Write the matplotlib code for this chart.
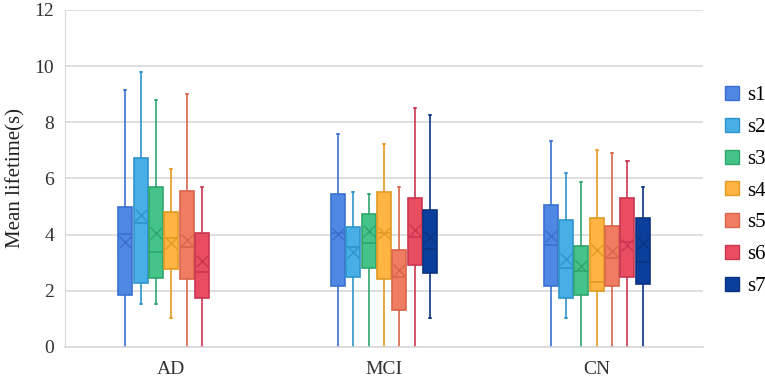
import matplotlib
matplotlib.use("Agg")
import matplotlib.pyplot as plt
from matplotlib.patches import Patch

plt.rcParams['font.family'] = ['Liberation Serif', 'DejaVu Serif']

groups = ['AD', 'MCI', 'CN']
states = ['s1', 's2', 's3', 's4', 's5', 's6', 's7']

face_colors = ['#4F88E3', '#47AEE6', '#45C48A', '#FFB444', '#F07D62', '#E84D62', '#0A3F9B']
edge_colors = ['#3A6FD0', '#2F94CC', '#2FA56C', '#E39A22', '#D9654A', '#CC3550', '#0A3384']

# per group, per state: (whislo, q1, med, q3, whishi, mean); None = not shown
AD = [
    (0.0, 1.84, 4.01, 4.99, 9.15, 3.73),
    (1.52, 2.29, 4.40, 6.71, 9.80, 4.70),
    (1.52, 2.47, 3.39, 5.68, 8.79, 4.05),
    (1.02, 2.77, 3.87, 4.79, 6.33, 3.71),
    (0.0, 2.43, 3.57, 5.55, 9.00, 3.81),
    (0.0, 1.75, 2.68, 4.05, 5.68, 3.06),
    None,
]
MCI = [
    (0.0, 2.18, 4.05, 5.43, 7.58, 4.03),
    (0.0, 2.48, 3.57, 4.26, 5.52, 3.37),
    (0.0, 2.81, 3.69, 4.73, 5.43, 4.14),
    (0.0, 2.43, 4.07, 5.52, 7.21, 4.05),
    (0.0, 1.32, 2.50, 3.45, 5.69, 2.74),
    (0.0, 2.92, 3.93, 5.31, 8.52, 4.16),
    (1.02, 2.62, 3.50, 4.89, 8.26, 3.90),
]
CN = [
    (0.0, 2.18, 3.63, 5.05, 7.34, 3.96),
    (1.02, 1.73, 2.80, 4.52, 6.18, 3.13),
    (0.0, 1.85, 2.69, 3.58, 5.88, 2.88),
    (0.0, 2.00, 2.32, 4.59, 7.01, 3.45),
    (0.0, 2.17, 3.18, 4.32, 6.89, 3.42),
    (0.0, 2.50, 3.75, 5.31, 6.63, 3.61),
    (0.0, 2.24, 3.01, 4.59, 5.68, 3.71),
]
data = [AD, MCI, CN]

fig = plt.figure(figsize=(7.65, 3.82), dpi=100)
ax = fig.add_axes([0.085, 0.092, 0.834, 0.882])

step = 0.0723
width = 0.066

for gi, group in enumerate(data):
    for si, vals in enumerate(group):
        if vals is None:
            continue
        lo, q1, med, q3, hi, mean = vals
        stats = [dict(whislo=lo, q1=q1, med=med, q3=q3, whishi=hi, mean=mean, fliers=[])]
        pos = gi + (si - 3) * step
        ec = edge_colors[si]
        ax.bxp(stats, positions=[pos], widths=width, patch_artist=True,
               showmeans=True, manage_ticks=False,
               boxprops=dict(facecolor=face_colors[si], edgecolor=ec, linewidth=1.2),
               medianprops=dict(color=ec, linewidth=1.2),
               whiskerprops=dict(color=ec, linewidth=1.2),
               capprops=dict(color=ec, linewidth=1.2),
               capwidths=width * 0.15,
               meanprops=dict(marker='x', markeredgecolor=ec, markersize=9,
                              markeredgewidth=1.0))

ax.set_xlim(-0.5, 2.5)
ax.set_ylim(0, 12)
ax.set_yticks(range(0, 13, 2))
ax.set_xticks(range(len(groups)))
ax.set_xticklabels(groups)
ax.tick_params(axis='both', length=0, labelsize=14, colors='#333333')
ax.tick_params(axis='x', pad=10)
ax.tick_params(axis='y', pad=8)
ax.set_ylabel('Mean lifetime(s)', fontsize=15, color='#222222', labelpad=6)

ax.yaxis.grid(True, color='#D9D9D9', linewidth=1.2)
ax.set_axisbelow(True)
for side in ['top', 'right']:
    ax.spines[side].set_visible(False)
ax.spines['left'].set_color('#D9D9D9')
ax.spines['bottom'].set_color('#D9D9D9')
ax.spines['bottom'].set_linewidth(1.2)

handles = [Patch(facecolor=face_colors[i], edgecolor=edge_colors[i], label=states[i])
           for i in range(len(states))]
fig.legend(handles=handles, loc='center left', bbox_to_anchor=(0.937, 0.5),
           frameon=False, fontsize=15, handlelength=0.65, handleheight=0.65,
           handletextpad=0.4, labelspacing=0.6, borderpad=0.2, borderaxespad=0.2)

fig.savefig('out.png', dpi=100)
